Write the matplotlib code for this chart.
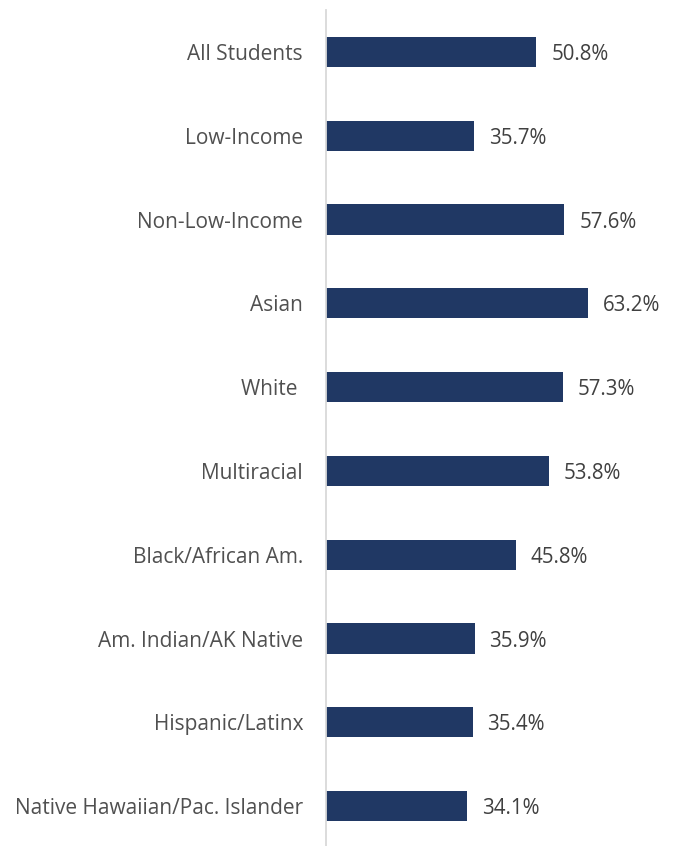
import matplotlib
matplotlib.use("Agg")
import matplotlib.pyplot as plt

categories = ["All Students", "Low-Income", "Non-Low-Income", "Asian", "White ",
              "Multiracial", "Black/African Am.", "Am. Indian/AK Native",
              "Hispanic/Latinx", "Native Hawaiian/Pac. Islander"]
values = [50.8, 35.7, 57.6, 63.2, 57.3, 53.8, 45.8, 35.9, 35.4, 34.1]

plt.rcParams['font.family'] = ['Open Sans', 'DejaVu Sans']

fig = plt.figure(figsize=(6.75, 8.46), dpi=100)
ax = fig.add_axes([326/675, -2/846, 1 - 326/675, 838/846])

ypos = list(range(len(categories)))
ax.barh(ypos, values, height=0.358, color="#203864", zorder=2)
for y, v in zip(ypos, values):
    ax.text(v + 3.6, y, f"{v:.1f}%", va="center_baseline", ha="left", fontsize=14.8, color="#404040")

ax.set_ylim(len(categories) - 0.5, -0.5)
ax.set_xlim(0, 84.3)
ax.set_yticks(ypos)
ax.set_yticklabels(categories, fontsize=15, color="#505050")
ax.tick_params(axis="y", length=0, pad=16.5)
ax.set_xticks([])
for s in ["top", "right", "bottom"]:
    ax.spines[s].set_visible(False)
ax.spines["left"].set_color("#d9d9d9")
ax.spines["left"].set_linewidth(1.3)
ax.spines["left"].set_zorder(3)

fig.savefig("out.png", dpi=100)
